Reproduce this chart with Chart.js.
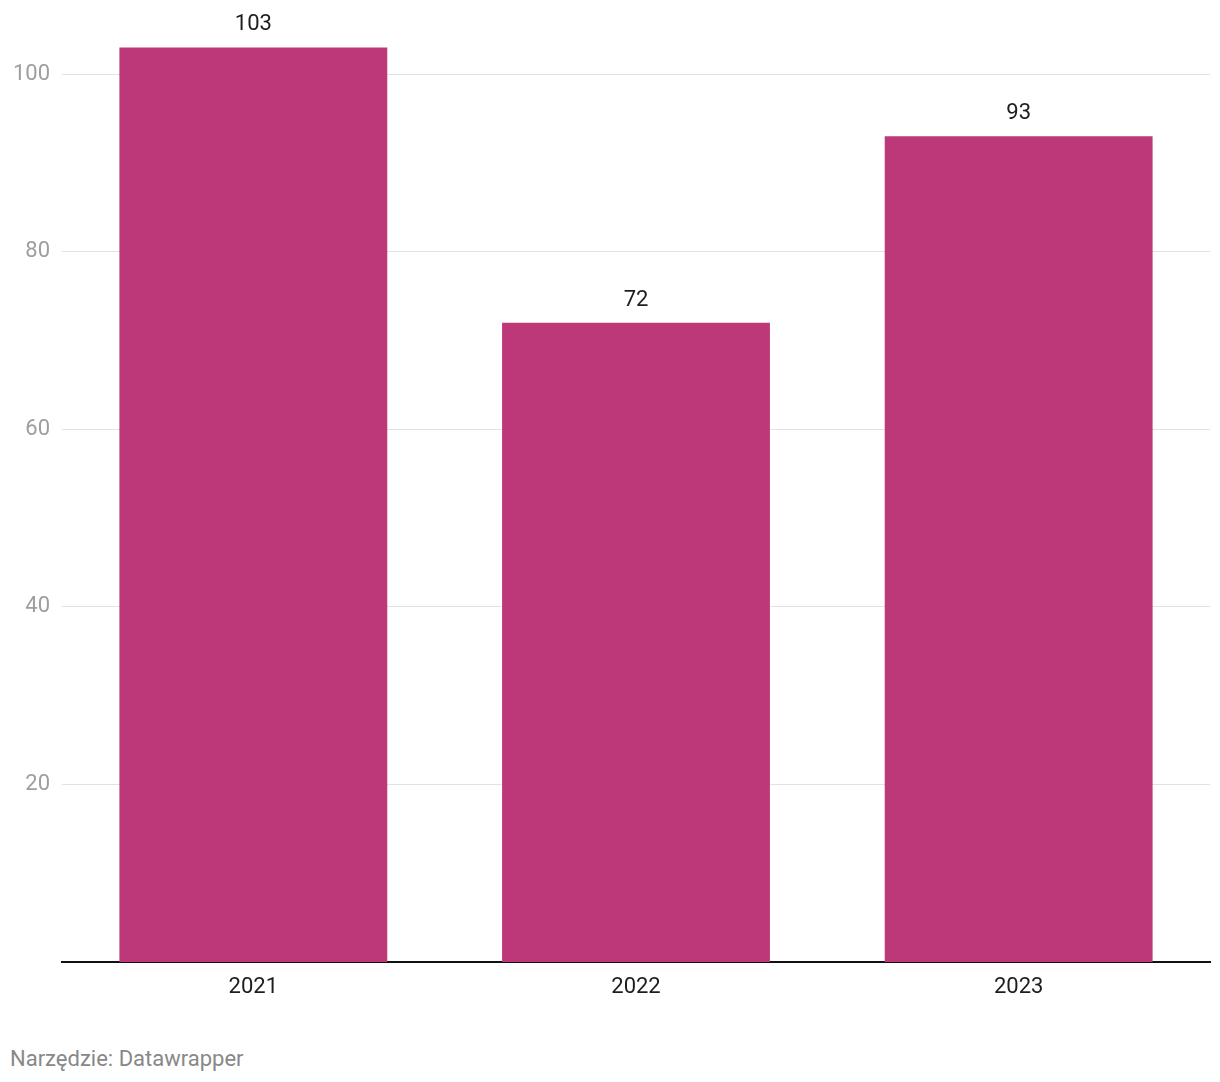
<!DOCTYPE html>
<html>
<head>
<meta charset="utf-8">
<script src="https://cdn.jsdelivr.net/npm/chart.js@4"></script>
<style>
  body { margin: 0; background: #fff; font-family: Roboto, sans-serif; }
  #wrap { position: relative; width: 1220px; height: 1030px; }
  #foot { position: absolute; left: 10px; top: 1046px; font-size: 22px; color: #888; font-family: Roboto, sans-serif; }
</style>
</head>
<body>
<div id="wrap"><canvas id="myChart"></canvas></div>
<div id="foot">Narzędzie: Datawrapper</div>
<script>
const years = ["2021", "2022", "2023"]
const values = [103, 72, 93]
const yTicks = [20, 40, 60, 80, 100]

// napisy nad slupkami
const valueLabels = {
  id: "valueLabels",
  afterDatasetsDraw: chart => {
    const ctx = chart.ctx
    ctx.save()
    ctx.font = "22px Roboto"
    ctx.fillStyle = "#1d1d1d"
    ctx.textAlign = "center"
    ctx.textBaseline = "alphabetic"
    chart.getDatasetMeta(0).data.forEach((bar, i) => {
      ctx.fillText(String(values[i]), bar.x, bar.y - 17)
    })
    ctx.restore()
  }
}

const myChart = new Chart(document.getElementById("myChart"), {
  type: "bar",
  data: {
    labels: years,
    datasets: [{
      data: values,
      backgroundColor: "#bd3879",
      barPercentage: 0.70,
      categoryPercentage: 1
    }]
  },
  options: {
    responsive: true,
    maintainAspectRatio: false,
    animation: false,
    layout: { padding: { left: 0, right: 10, top: 0, bottom: 0 } },
    plugins: {
      legend: { display: false },
      tooltip: { enabled: false }
    },
    scales: {
      x: {
        grid: { display: false, drawTicks: false },
        border: { display: true, color: "#111", width: 2 },
        ticks: { color: "#1d1d1d", font: { family: "Roboto", size: 22 }, padding: 12 },
        afterFit: s => { s.height = 68 }
      },
      y: {
        min: 0,
        max: 105.5,
        grid: { color: "#e2e2e2", lineWidth: 1, drawTicks: false },
        border: { display: false },
        ticks: { color: "#9e9e9e", font: { family: "Roboto", size: 22 }, padding: 12, stepSize: 20 },
        afterBuildTicks: s => { s.ticks = yTicks.map(v => ({ value: v })) },
        afterFit: s => { s.width = 62 }
      }
    }
  },
  plugins: [valueLabels]
})
</script>
</body>
</html>
